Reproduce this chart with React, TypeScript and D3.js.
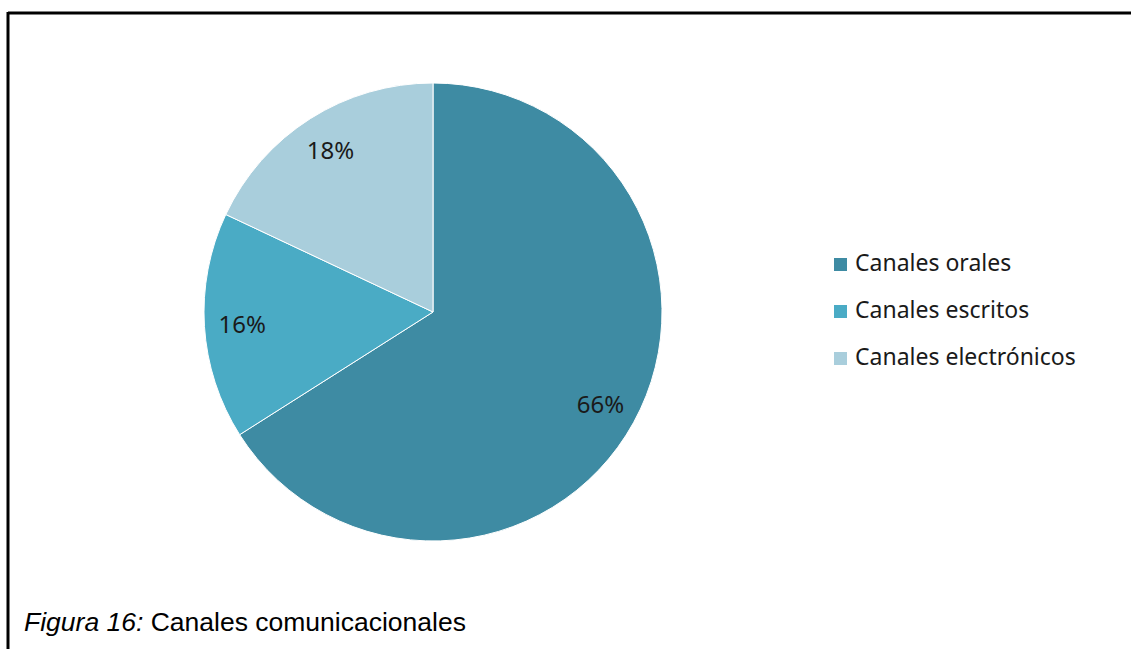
import React from "react";
import * as d3 from "d3";

const categories = ["Canales orales", "Canales escritos", "Canales electrónicos"];
const values = [66, 16, 18];
const labels = ["66%", "16%", "18%"];
const colors = ["#3E8BA3", "#4AABC5", "#A9CEDC"];
const caption = ["Figura 16:", " Canales comunicacionales"];

export default function App() {
  const W = 1131, H = 649;
  const cx = 433, cy = 312, r = 229;
  const pie = d3.pie<number>().sort(null).value((d) => d)(values);
  const arc = d3.arc<d3.PieArcDatum<number>>().innerRadius(0).outerRadius(r);
  const labelArc = d3.arc<d3.PieArcDatum<number>>().innerRadius(r * 0.835).outerRadius(r * 0.835);
  const legendBase = d3.scalePoint<string>().domain(categories).range([271, 365]);
  const font = "'Noto Sans', sans-serif";
  return (
    <svg width={W} height={H} style={{ position: "absolute", left: 0, top: 0, background: "#fff" }}>
      <rect x={0} y={0} width={W} height={H} fill="#fff" />
      <line x1={8} y1={13} x2={W} y2={13} stroke="#000" strokeWidth={3} />
      <line x1={8} y1={12} x2={8} y2={H} stroke="#000" strokeWidth={3} />
      <g transform={`translate(${cx},${cy})`}>
        {pie.map((p, i) => (
          <path key={i} d={arc(p) || ""} fill={colors[i]} stroke="#fff" strokeWidth={1} />
        ))}
        {pie.map((p, i) => {
          const [x, y] = labelArc.centroid(p);
          return (
            <text key={i} x={x} y={y + 8.5} textAnchor="middle" fontFamily={font} fontSize={24} fill="#1a1a1a">
              {labels[i]}
            </text>
          );
        })}
      </g>
      {categories.map((c, i) => (
        <g key={c}>
          <rect x={834} y={(legendBase(c) as number) - 13} width={13} height={13} fill={colors[i]} />
          <text x={855} y={legendBase(c)} fontFamily={font} fontSize={23} fill="#1a1a1a">
            {c}
          </text>
        </g>
      ))}
      <text x={24} y={631} fontFamily="'Liberation Sans', Arial, sans-serif" fontSize={26.5} fill="#000">
        <tspan fontStyle="italic">{caption[0]}</tspan>
        <tspan>{caption[1]}</tspan>
      </text>
    </svg>
  );
}
